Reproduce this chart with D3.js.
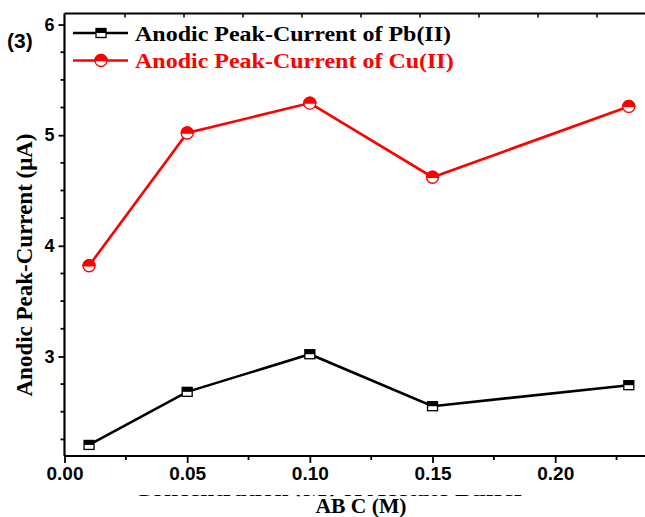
<!DOCTYPE html>
<html>
<head>
<meta charset="utf-8">
<script src="https://cdn.jsdelivr.net/npm/d3@7/dist/d3.min.js"></script>
<style>
  body { margin: 0; background: #fff; }
  svg { display: block; }
</style>
</head>
<body>
<svg id="chart" width="645" height="517"></svg>
<script>
const concentrations = [0.01, 0.05, 0.10, 0.15, 0.23];
const pbCurrent = [2.20, 2.68, 3.02, 2.55, 2.74];
const cuCurrent = [3.82, 5.02, 5.29, 4.62, 5.26];
const xTickValues = [0, 0.05, 0.10, 0.15, 0.20];
const yTickValues = [3, 4, 5, 6];
const seriesNames = ["Anodic Peak-Current of Pb(II)", "Anodic Peak-Current of Cu(II)"];

(function peakCurrentChart() {
  const svg = d3.select("#chart");
  const left = 64.5;
  const right = 645;
  const top = 13.5;
  const bottom = 456;

  const xScale = d3.scaleLinear().domain([0, 0.2366]).range([left, right]);
  const topScale = d3.scaleLinear().domain([0, 0.25]).range([66, 66 + 0.25 * 2360]);
  const yScale = d3.scaleLinear().domain([2.1, 6.1]).range([bottom, top]);

  const sansBold = "Arial, 'Liberation Sans', sans-serif";
  const serif = "'Times New Roman', 'Liberation Serif', serif";

  // frame: top line with inward ticks (cropped at right)
  svg.append("line")
    .attr("x1", left).attr("x2", right)
    .attr("y1", top).attr("y2", top)
    .attr("stroke", "#000").attr("stroke-width", 2);

  svg.append("g")
    .selectAll("line")
    .data(d3.range(1, 10).map((k) => k * 0.025))
    .join("line")
    .attr("x1", (d) => topScale(d)).attr("x2", (d) => topScale(d))
    .attr("y1", top).attr("y2", top + 4)
    .attr("stroke", "#000").attr("stroke-width", 1.5);

  // bottom axis
  const xAxis = d3.axisBottom(xScale)
    .tickValues(xTickValues)
    .tickSize(7)
    .tickPadding(4)
    .tickFormat(d3.format(".2f"));
  const xAxisG = svg.append("g")
    .attr("transform", `translate(0,${bottom})`)
    .call(xAxis);
  xAxisG.select(".domain").attr("stroke-width", 2.2).attr("d", `M${left},0H${right}`);
  xAxisG.selectAll(".tick line").attr("stroke-width", 1.8);
  xAxisG.selectAll(".tick text")
    .attr("font-family", sansBold).attr("font-weight", "bold")
    .attr("font-size", 19).attr("fill", "#000");

  svg.append("g")
    .attr("transform", `translate(0,${bottom})`)
    .selectAll("line")
    .data(d3.range(0.025, 0.24, 0.05))
    .join("line")
    .attr("x1", (d) => xScale(d)).attr("x2", (d) => xScale(d))
    .attr("y1", 0).attr("y2", 4)
    .attr("stroke", "#000").attr("stroke-width", 1.8);

  // left axis
  const yAxis = d3.axisLeft(yScale)
    .tickValues(yTickValues)
    .tickSize(6)
    .tickPadding(4)
    .tickFormat(d3.format("d"));
  const yAxisG = svg.append("g")
    .attr("transform", `translate(${left},0)`)
    .call(yAxis);
  yAxisG.select(".domain").attr("stroke-width", 2.2).attr("d", `M0,${top}V${bottom}`);
  yAxisG.selectAll(".tick line").attr("stroke-width", 1.8);
  yAxisG.selectAll(".tick text")
    .attr("font-family", sansBold).attr("font-weight", "bold")
    .attr("font-size", 18).attr("fill", "#000");

  svg.append("g")
    .attr("transform", `translate(${left},0)`)
    .selectAll("line")
    .data(d3.range(2.25, 6.01, 0.25).filter((v) => Math.abs(v - Math.round(v)) > 0.01))
    .join("line")
    .attr("x1", -4).attr("x2", 0)
    .attr("y1", (d) => yScale(d)).attr("y2", (d) => yScale(d))
    .attr("stroke", "#000").attr("stroke-width", 1.8);

  // panel tag
  svg.append("text")
    .attr("x", 7).attr("y", 48)
    .attr("font-family", sansBold).attr("font-weight", "bold")
    .attr("font-size", 21)
    .text("(3)");

  // axis titles
  svg.append("text")
    .attr("transform", "translate(32,265) rotate(-90)")
    .attr("text-anchor", "middle")
    .attr("font-family", serif).attr("font-weight", "bold")
    .attr("font-size", 23)
    .text("Anodic Peak-Current (μA)");

  // the first title line is cropped in the source: only its lowest pixel row shows
  svg.append("clipPath").attr("id", "title-crop")
    .append("rect").attr("x", 0).attr("y", 495).attr("width", 645).attr("height", 1.2);
  svg.append("g")
    .attr("clip-path", "url(#title-crop)")
    .append("text")
    .attr("transform", "translate(329,496) scale(1.2,1)")
    .attr("text-anchor", "middle")
    .attr("font-family", serif).attr("font-weight", "bold")
    .attr("font-size", 21)
    .text("Concentration (M) of Acetate Buffer");

  svg.append("text")
    .attr("transform", "translate(361,513) scale(1.08,1)")
    .attr("text-anchor", "middle")
    .attr("font-family", serif).attr("font-weight", "bold")
    .attr("font-size", 20)
    .text("AB C (M)");

  // series
  const series = [
    { name: seriesNames[0], values: pbCurrent, color: "#000", shape: "square" },
    { name: seriesNames[1], values: cuCurrent, color: "#ff0000", shape: "circle" },
  ];

  const line = d3.line()
    .x((d) => xScale(d.x))
    .y((d) => yScale(d.y));

  function drawMarker(g, shape, color) {
    if (shape === "square") {
      g.append("rect")
        .attr("x", -5).attr("y", -4.5).attr("width", 10).attr("height", 9)
        .attr("fill", "#fff").attr("stroke", color).attr("stroke-width", 1.3);
      g.append("rect")
        .attr("x", -5).attr("y", -4.5).attr("width", 10).attr("height", 4.5)
        .attr("fill", color);
    } else {
      const r = 6;
      g.append("circle")
        .attr("r", r)
        .attr("fill", "#fff").attr("stroke", color).attr("stroke-width", 1.3);
      g.append("path")
        .attr("d", `M${-r},0A${r},${r} 0 0 1 ${r},0Z`)
        .attr("fill", color).attr("stroke", color).attr("stroke-width", 1.3);
    }
  }

  series.forEach((s) => {
    const points = concentrations.map((x, i) => ({ x, y: s.values[i] }));
    svg.append("path")
      .datum(points)
      .attr("d", line)
      .attr("fill", "none")
      .attr("stroke", s.color)
      .attr("stroke-width", 2.6);

    svg.append("g")
      .selectAll("g")
      .data(points)
      .join("g")
      .attr("transform", (d) => `translate(${xScale(d.x)},${yScale(d.y)})`)
      .each(function (d) {
        drawMarker(d3.select(this), s.shape, s.color);
      });
  });

  // legend
  const legend = svg.append("g");
  series.forEach((s, i) => {
    const y = 33 + i * 27.5;
    legend.append("line")
      .attr("x1", 73).attr("x2", 128)
      .attr("y1", y).attr("y2", y)
      .attr("stroke", s.color).attr("stroke-width", 2.6);
    drawMarker(legend.append("g").attr("transform", `translate(101,${y})`), s.shape, s.color);
    legend.append("text")
      .attr("transform", `translate(135,${y + 7.5}) scale(1.2,1)`)
      .attr("font-family", serif).attr("font-weight", "bold")
      .attr("font-size", 20)
      .attr("fill", s.color)
      .text(s.name);
  });
})();
</script>
</body>
</html>
